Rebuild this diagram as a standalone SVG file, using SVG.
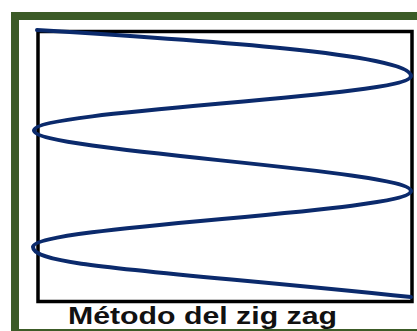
<svg xmlns="http://www.w3.org/2000/svg" width="417" height="331" viewBox="0 0 417 331">
<style>
.frame{fill:none;stroke:#3c5b27;stroke-width:8}
.box{fill:none;stroke:#000;stroke-width:3.5}
.zig{fill:none;stroke:#0b2a6c;stroke-width:4;stroke-linecap:round}
.label{font-family:"Liberation Sans",Arial,sans-serif;font-weight:bold;font-size:24px;fill:#111}
</style>
<rect width="417" height="331" fill="#fff"/>
<g id="frame"><rect class="frame" x="15" y="16" width="420" height="317"/></g>
<g id="box"><rect class="box" x="38" y="31.5" width="374" height="270"/></g>
<g id="connectors">
<path class="zig" d="M37,30 C200,40 411,54 411,76 C411,97 34,110 34,130.5 C34,151 411,170 411,191 C411,212 33,226 33,247 C33,266 150,270 411,297"/>
</g>
<g id="caption"><text class="label" x="68" y="324" textLength="269" lengthAdjust="spacingAndGlyphs">Método del zig zag</text></g>
</svg>
